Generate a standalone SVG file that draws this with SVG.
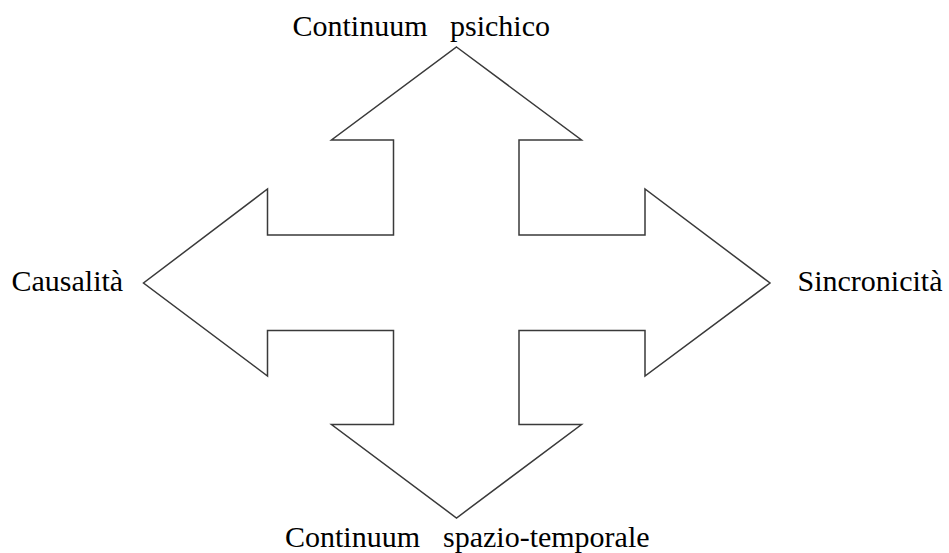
<svg xmlns="http://www.w3.org/2000/svg" width="949" height="553" viewBox="0 0 949 553">
  <style>
    .shape { fill: #ffffff; stroke: #3a3a3a; stroke-width: 1.5; stroke-linejoin: miter; }
    .lbl { font-family: 'Liberation Serif', 'Times New Roman', Times, serif; font-size: 30px; fill: #000000; }
  </style>
  <rect x="0" y="0" width="949" height="553" fill="#ffffff"/>
  <g id="cross-arrow">
    <polygon class="shape" points="456.5,47 581.5,140 519,140 519,235 645,235 645,189 770,283 645,376 645,330.5 519,330.5 519,424.5 581.5,424.5 456.5,518 331.5,424.5 393.5,424.5 393.5,330.5 267.5,330.5 267.5,376 143.5,283 267.5,189 267.5,235 393.5,235 393.5,140 331.5,140"/>
  </g>
  <g id="label-top">
    <text class="lbl" y="36"><tspan x="292.5">Continuum</tspan><tspan x="450">psichico</tspan></text>
  </g>
  <g id="label-left">
    <text class="lbl" x="11.5" y="291">Causalità</text>
  </g>
  <g id="label-right">
    <text class="lbl" x="797.5" y="291">Sincronicità</text>
  </g>
  <g id="label-bottom">
    <text class="lbl" y="546.5"><tspan x="285">Continuum</tspan><tspan x="443">spazio-temporale</tspan></text>
  </g>
</svg>
